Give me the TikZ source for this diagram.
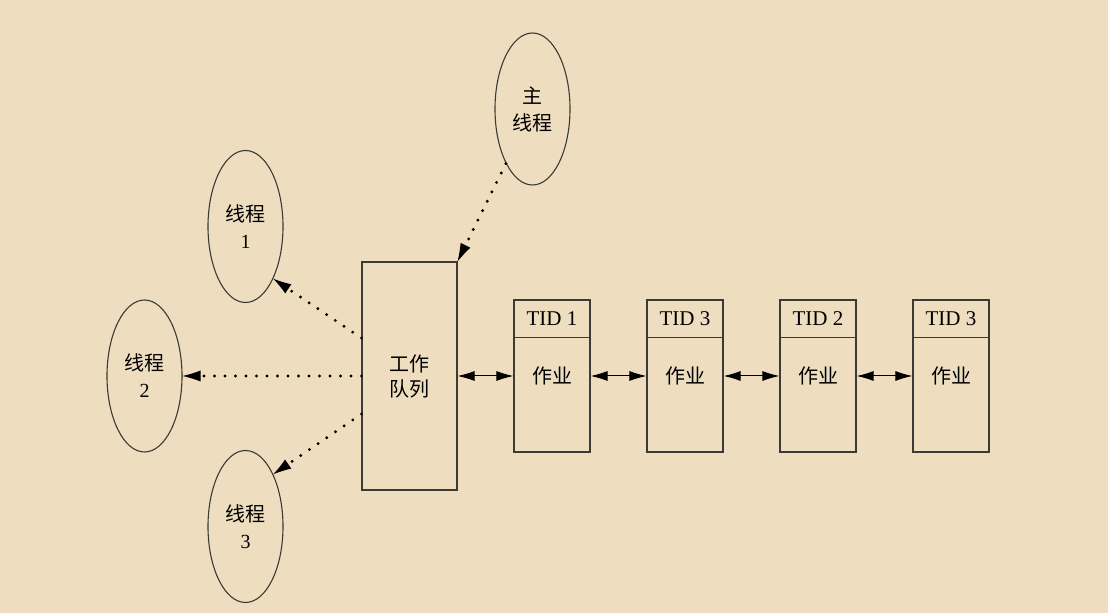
\documentclass[tikz,border=0pt]{standalone}
\usepackage{fontspec}
\setmainfont{Liberation Serif}
\newfontfamily\cjk{Noto Sans CJK SC}
\usetikzlibrary{shapes.geometric,arrows.meta,calc}
\definecolor{bg}{HTML}{EEDDBF}
\definecolor{ln}{HTML}{3C3A36}
\tikzset{
  txt/.style={font=\fontsize{20}{27}\selectfont},
  thr/.style={ellipse,draw=ln,line width=1.1pt,minimum width=75pt,minimum height=152pt,inner sep=0pt,align=center,font=\fontsize{20}{27}\selectfont},
  queuebox/.style={rectangle,draw=ln,line width=1.1pt,minimum width=95pt,minimum height=228pt,inner sep=0pt,align=center,font=\fontsize{20}{25}\selectfont},
  jobbox/.style={rectangle,draw=ln,line width=1.1pt,minimum width=76pt,minimum height=152pt,inner sep=0pt,font=\fontsize{20}{25}\selectfont},
  tidlabel/.style={inner sep=0pt,font=\fontsize{21}{25}\selectfont},
  dotarrow/.style={line width=3.2pt,line cap=round,dash pattern=on 0pt off 10.5pt,-{Latex[length=18pt,width=11pt,line width=0pt]}},
  dblarrow/.style={line width=1pt,{Latex[length=17pt,width=10pt]}-{Latex[length=17pt,width=10pt]}}
}
\begin{document}
\begin{tikzpicture}[x=1pt,y=1pt]
\fill[bg] (0,0) rectangle (1108,613);
\useasboundingbox (0,0) rectangle (1108,613);

\node[queuebox] (q) at (409.5,237) {{\cjk 工作}\\{\cjk 队列}};
\node[thr] (m) at (532.5,504) {{\cjk 主}\\{\cjk 线程}};
\node[thr] (t1) at (245.5,386.5) {{\cjk 线程}\\1};
\node[thr] (t2) at (144.5,237) {{\cjk 线程}\\2};
\node[thr] (t3) at (245.5,86.5) {{\cjk 线程}\\3};

\foreach \i/\x/\t in {1/552/1,2/685/3,3/818/2,4/951/3}{
  \node[jobbox] (b\i) at (\x,237) {\cjk 作业};
  \draw[ln,line width=1.1pt] ($(b\i.north west)+(0,-38)$) -- ($(b\i.north east)+(0,-38)$);
  \node[tidlabel] (h\i) at ($(b\i.north)+(0,-19)$) {TID \t};
}

\coordinate (q1) at ($(q.west)+(0,38)$);
\coordinate (q3) at ($(q.west)+(0,-38)$);

\draw[dotarrow] (q1) -- (t1.-62);
\draw[dotarrow] (q.west) -- (t2.east);
\draw[dotarrow] (q3) -- (t3.62);
\draw[dotarrow] (m.-116) -- (q.north east);

\draw[dblarrow] (q.east) -- (b1.west);
\draw[dblarrow] (b1.east) -- (b2.west);
\draw[dblarrow] (b2.east) -- (b3.west);
\draw[dblarrow] (b3.east) -- (b4.west);
\end{tikzpicture}
\end{document}
